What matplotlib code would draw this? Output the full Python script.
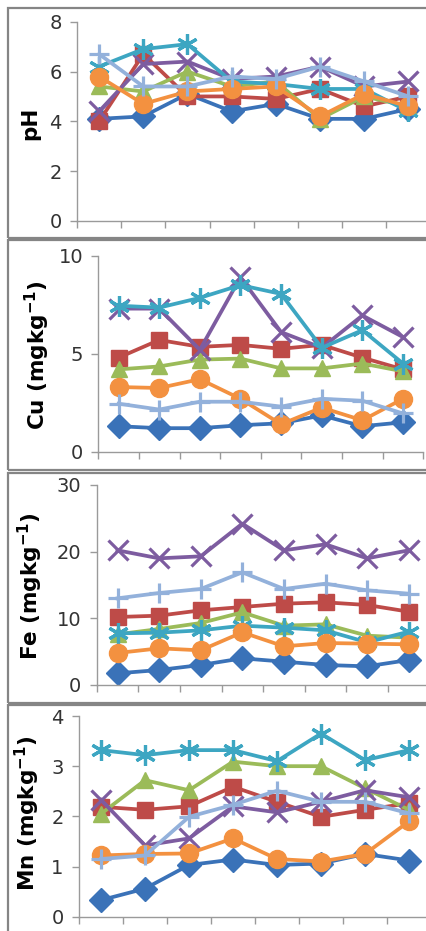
import numpy as np
import matplotlib
matplotlib.use("Agg")
import matplotlib.pyplot as plt
from matplotlib.patches import Rectangle

# 8 sampling points (no x labels shown in the picture)
points = np.arange(1, 9)

# pH
ph_blue = [4.1, 4.2, 5.1, 4.4, 4.7, 4.1, 4.1, 4.5]
ph_red = [4.0, 6.7, 5.0, 5.0, 4.9, 5.3, 4.6, 5.0]
ph_green = [5.4, 5.2, 6.0, 5.4, 5.6, 4.1, 5.0, 4.6]
ph_purple = [4.4, 6.3, 6.4, 5.7, 5.8, 6.2, 5.4, 5.6]
ph_teal = [6.2, 6.9, 7.1, 5.6, 5.5, 5.3, 5.3, 4.4]
ph_orange = [5.8, 4.7, 5.2, 5.3, 5.4, 4.2, 5.1, 4.6]
ph_ltblue = [6.7, 5.4, 5.4, 5.8, 5.7, 6.2, 5.6, 5.0]

# Cu (mg/kg)
cu_blue = [1.3, 1.2, 1.2, 1.35, 1.45, 1.85, 1.3, 1.5]
cu_red = [4.8, 5.7, 5.35, 5.45, 5.25, 5.45, 4.8, 4.2]
cu_green = [4.2, 4.35, 4.7, 4.75, 4.25, 4.25, 4.5, 4.1]
cu_purple = [7.3, 7.3, 5.2, 8.9, 6.1, 5.3, 6.95, 5.85]
cu_teal = [7.45, 7.35, 7.85, 8.5, 8.05, 5.3, 6.2, 4.5]
cu_orange = [3.3, 3.25, 3.7, 2.7, 1.4, 2.25, 1.6, 2.7]
cu_ltblue = [2.45, 2.15, 2.55, 2.55, 2.3, 2.7, 2.6, 1.95]

# Fe (mg/kg)
fe_blue = [1.75, 2.25, 3.0, 4.0, 3.5, 3.0, 2.8, 3.75]
fe_red = [10.2, 10.4, 11.2, 11.7, 12.2, 12.4, 12.0, 11.0]
fe_green = [7.6, 8.4, 9.3, 10.9, 8.9, 9.1, 7.4, 7.1]
fe_purple = [20.2, 19.0, 19.3, 24.2, 20.2, 21.1, 19.0, 20.2]
fe_teal = [7.75, 7.85, 8.2, 8.9, 8.6, 8.2, 6.4, 8.0]
fe_orange = [4.8, 5.5, 5.2, 7.9, 5.8, 6.3, 6.2, 6.1]
fe_ltblue = [13.0, 13.8, 14.4, 16.9, 14.4, 15.2, 14.2, 13.7]

# Mn (mg/kg)
mn_blue = [0.33, 0.56, 1.03, 1.14, 1.03, 1.06, 1.25, 1.12]
mn_red = [2.19, 2.13, 2.2, 2.59, 2.29, 1.99, 2.13, 2.26]
mn_green = [2.05, 2.72, 2.52, 3.09, 3.0, 3.0, 2.56, 2.13]
mn_purple = [2.33, 1.42, 1.56, 2.2, 2.08, 2.29, 2.52, 2.38]
mn_teal = [3.32, 3.22, 3.32, 3.32, 3.1, 3.65, 3.12, 3.32]
mn_orange = [1.22, 1.25, 1.26, 1.56, 1.15, 1.1, 1.25, 1.9]
mn_ltblue = [1.15, 1.22, 1.99, 2.23, 2.51, 2.29, 2.29, 2.06]

colors = ['#3A72B8', '#BE4B48', '#9BBB59', '#7D5CA0', '#3DA6C2', '#F39140', '#93B1DB']
markers = ['D', 's', '^', 'x', (6, 2, 0), 'o', '+']
msizes = [12, 12, 12, 14, 15, 13, 15]

panels = [
    ('pH', [ph_blue, ph_red, ph_green, ph_purple, ph_teal, ph_orange, ph_ltblue], 8, 2),
    ('Cu (mgkg$^{\\mathbf{-1}}$)', [cu_blue, cu_red, cu_green, cu_purple, cu_teal, cu_orange, cu_ltblue], 10, 5),
    ('Fe (mgkg$^{\\mathbf{-1}}$)', [fe_blue, fe_red, fe_green, fe_purple, fe_teal, fe_orange, fe_ltblue], 30, 10),
    ('Mn (mgkg$^{\\mathbf{-1}}$)', [mn_blue, mn_red, mn_green, mn_purple, mn_teal, mn_orange, mn_ltblue], 4, 1),
]

W, H = 427, 931
fig = plt.figure(figsize=(W / 100, H / 100), dpi=100)
fig.patch.set_facecolor('white')

# pixel boxes (top-origin): panel frame, axes left/right/top/bottom, label x/y
frames = [(8, 237.5), (240, 470), (472.5, 703), (705, 945)]
axboxes = [(77, 430.5, 21.7, 221), (98.3, 423.3, 255.7, 451.7),
           (96.7, 429.5, 485, 685), (79, 431, 716, 916.7)]
labelpos = [(30, 123), (37, 355), (30, 586), (27, 813)]

plt.rcParams['font.family'] = ['DejaVu Sans']
plt.rcParams['mathtext.fontset'] = 'dejavusans'

for (top, bot) in frames:
    fig.patches.append(Rectangle((8 / W, 1 - bot / H), (460 - 8) / W, (bot - top) / H,
                                 transform=fig.transFigure, fill=False,
                                 edgecolor='#858585', linewidth=1.6, zorder=0))

for (label, series, ymax, step), (l, r, t, b), (lx, ly) in zip(panels, axboxes, labelpos):
    ax = fig.add_axes([l / W, 1 - b / H, (r - l) / W, (b - t) / H])
    ax.set_facecolor('none')
    for vals, c, m, ms in zip(series, colors, markers, msizes):
        filled = m not in ('x', '+') and not isinstance(m, tuple)
        ax.plot(points, vals, color=c, linewidth=2.7, marker=m, markersize=ms,
                markerfacecolor=c, markeredgecolor=c,
                markeredgewidth=1.0 if filled else 2.3, clip_on=False)
    ax.set_xlim(0.5, 8.5)
    ax.set_ylim(0, ymax)
    ax.set_yticks(np.arange(0, ymax + step / 2, step))
    ax.set_xticks(np.arange(0.5, 8.6, 1))
    ax.set_xticklabels([])
    for s in ('top', 'right'):
        ax.spines[s].set_visible(False)
    for s in ('left', 'bottom'):
        ax.spines[s].set_color('#9a9a9a')
        ax.spines[s].set_linewidth(1.0)
    ax.tick_params(axis='both', direction='out', length=5, width=1.0, color='#9a9a9a')
    ax.tick_params(axis='y', labelsize=14, pad=6, labelcolor='#333333')
    fig.text(lx / W, 1 - ly / H, label, rotation=90, ha='center', va='center',
             fontsize=15.5, fontweight='bold', color='black')

fig.savefig('out.png', dpi=100)
